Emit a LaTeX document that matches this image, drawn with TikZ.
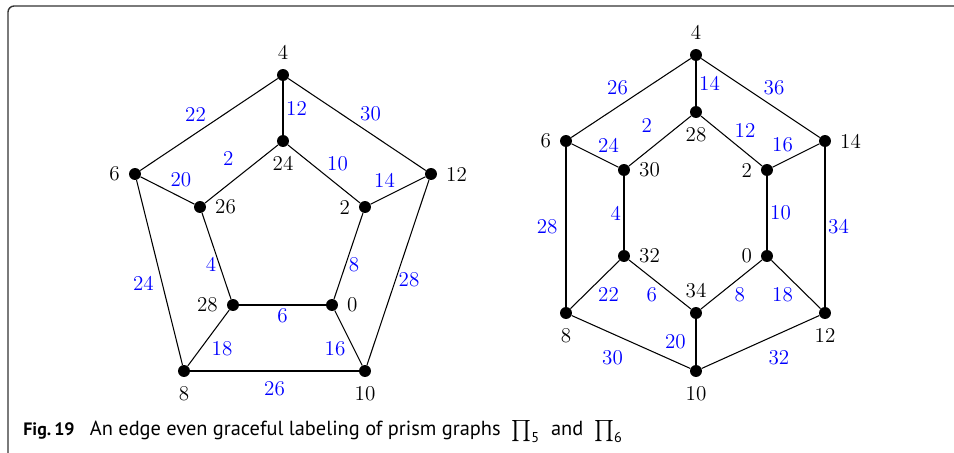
\documentclass[tikz,border=0pt]{standalone}
\usepackage{amsmath}
\usepackage{fontspec}
\newfontfamily\capfont{PT Sans}
\usetikzlibrary{positioning}
\tikzset{
  vertex/.style={circle, fill=black, inner sep=0pt, minimum size=6.8pt},
  vlab/.style={font=\fontsize{12}{14}\selectfont, text=black},
  elab/.style={font=\fontsize{12}{14}\selectfont, text=blue, inner sep=1.5pt},
  prismedge/.style={line width=0.6pt},
  framebox/.style={line width=0.8pt, draw=black!80, rounded corners=3.5pt},
  captext/.style={font=\capfont\fontsize{11.6}{13}\selectfont, inner sep=0pt}
}

\begin{document}
\begin{tikzpicture}[x=0.2mm, y=-0.2mm, every label/.style={vlab}, label distance=1.5pt]
  \useasboundingbox (0,0) rectangle (954,453);
  \draw[framebox] (8,453) |- (954,6);

  % prism graph with 5 sides
  \node[vertex, label=above:4] (p4) at (283,75) {};
  \node[vertex, label=right:12] (p12) at (431,174) {};
  \node[vertex, label=below:10] (p10) at (365,371) {};
  \node[vertex, label=below:8] (p8) at (184,371) {};
  \node[vertex, label=left:6] (p6) at (135,174) {};
  \node[vertex, label=below:24] (p24) at (283,141) {};
  \node[vertex, label=left:2] (p2) at (365,207) {};
  \node[vertex, label=right:0] (p0) at (332,305) {};
  \node[vertex, label=left:28] (p28) at (233,305) {};
  \node[vertex, label=right:26] (p26) at (200,207) {};
  \draw[prismedge] (p4) -- node[elab, above left] {22} (p6);
  \draw[prismedge] (p4) -- node[elab, above right] {30} (p12);
  \draw[prismedge] (p4) -- node[elab, right] {12} (p24);
  \draw[prismedge] (p24) -- node[elab, above left=4pt] {2} (p26);
  \draw[prismedge] (p24) -- node[elab, above right] {10} (p2);
  \draw[prismedge] (p6) -- node[elab, above right] {20} (p26);
  \draw[prismedge] (p12) -- node[elab, above left] {14} (p2);
  \draw[prismedge] (p26) -- node[elab, pos=0.6, left] {4} (p28);
  \draw[prismedge] (p2) -- node[elab, pos=0.6, right] {8} (p0);
  \draw[prismedge] (p6) -- node[elab, pos=0.56, left=3pt] {24} (p8);
  \draw[prismedge] (p12) -- node[elab, pos=0.54, right] {28} (p10);
  \draw[prismedge] (p28) -- node[elab, below] {6} (p0);
  \draw[prismedge] (p28) -- node[elab, below right] {18} (p8);
  \draw[prismedge] (p0) -- node[elab, below left] {16} (p10);
  \draw[prismedge] (p8) -- node[elab, below=4pt] {26} (p10);

  % prism graph with 6 sides
  \node[vertex, label=above:4] (h4) at (696,55) {};
  \node[vertex, label=right:14] (h14) at (825,141) {};
  \node[vertex, label=below:12] (h12) at (825,313) {};
  \node[vertex, label=below:10] (h10) at (696,371) {};
  \node[vertex, label=below:8] (h8) at (566,313) {};
  \node[vertex, label=left:6] (h6) at (566,141) {};
  \node[vertex, label=below:28] (h28) at (696,112) {};
  \node[vertex, label=left:2] (h2) at (767,170) {};
  \node[vertex, label=left:0] (h0) at (767,256) {};
  \node[vertex, label=above:34] (h34) at (696,313) {};
  \node[vertex, label=right:32] (h32) at (624,256) {};
  \node[vertex, label=right:30] (h30) at (624,170) {};
  \draw[prismedge] (h4) -- node[elab, above left] {26} (h6);
  \draw[prismedge] (h4) -- node[elab, above right] {36} (h14);
  \draw[prismedge] (h4) -- node[elab, right] {14} (h28);
  \draw[prismedge] (h28) -- node[elab, above left=4pt] {2} (h30);
  \draw[prismedge] (h28) -- node[elab, above right] {12} (h2);
  \draw[prismedge] (h6) -- node[elab, above right] {24} (h30);
  \draw[prismedge] (h14) -- node[elab, above left] {16} (h2);
  \draw[prismedge] (h30) -- node[elab, left] {4} (h32);
  \draw[prismedge] (h2) -- node[elab, right] {10} (h0);
  \draw[prismedge] (h6) -- node[elab, left=3pt] {28} (h8);
  \draw[prismedge] (h14) -- node[elab, right] {34} (h12);
  \draw[prismedge] (h32) -- node[elab, below right] {22} (h8);
  \draw[prismedge] (h32) -- node[elab, below left] {6} (h34);
  \draw[prismedge] (h0) -- node[elab, below right] {8} (h34);
  \draw[prismedge] (h0) -- node[elab, below left] {18} (h12);
  \draw[prismedge] (h34) -- node[elab, left=4pt] {20} (h10);
  \draw[prismedge] (h8) -- node[elab, below left=4pt] {30} (h10);
  \draw[prismedge] (h10) -- node[elab, below right=4pt] {32} (h12);

  \node[captext, anchor=base west] (cap) at (23,436)
    {{\fontsize{10.2}{12}\selectfont\textbf{Fig.\,19}}\hspace{0.75em}An edge even graceful labeling of prism graphs\ \ $\prod_{\text{5}}$\ \ and\ \ $\prod_{\text{6}}$};
\end{tikzpicture}
\end{document}
